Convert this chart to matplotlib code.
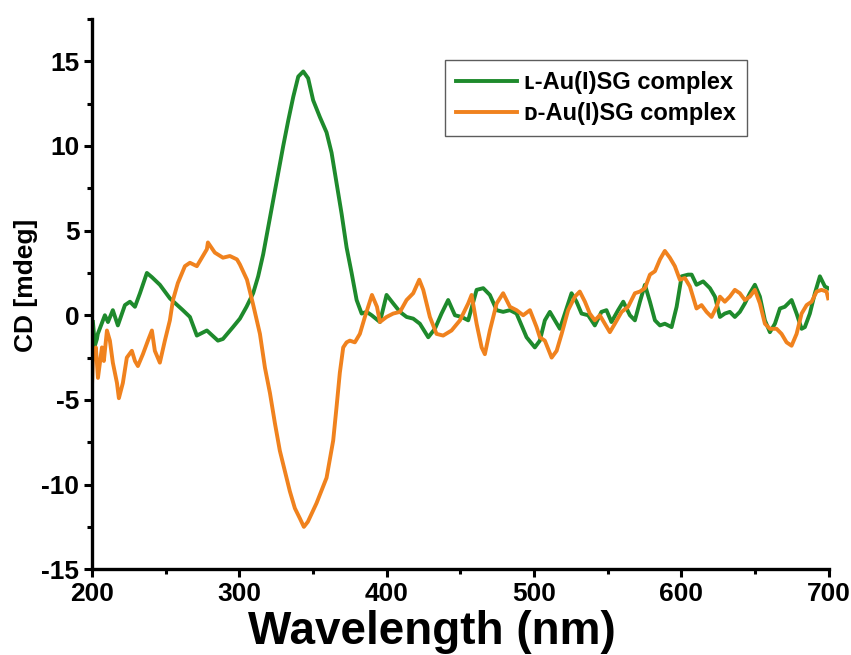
import matplotlib
matplotlib.use("Agg")
import matplotlib.pyplot as plt
from matplotlib.ticker import MultipleLocator

# L-Au(I)SG complex (green)
wl_L = [200.7, 202.0, 203.4, 204.0, 208.8, 210.9, 214.2, 217.6, 222.4, 225.8,
        229.2, 232.6, 237.3, 240.7, 246.1, 252.9, 261.7, 266.5, 271.2, 278.0,
        285.5, 288.9, 295.7, 300.4, 304.9, 309.4, 312.8, 316.2, 319.6, 323.0,
        326.4, 329.8, 333.2, 336.6, 340.0, 343.4, 346.7, 350.1, 354.7, 359.2,
        362.6, 366.0, 369.4, 372.8, 376.2, 379.6, 383.0, 386.4, 389.8, 395.4,
        399.9, 404.4, 409.0, 413.5, 418.0, 422.5, 428.2, 432.7, 437.2, 441.7,
        446.3, 450.8, 455.3, 461.0, 465.5, 470.0, 474.6, 479.0, 483.6, 488.1,
        494.9, 500.5, 503.9, 507.3, 510.7, 514.1, 517.5, 520.9, 525.4, 528.8,
        532.2, 536.7, 541.2, 545.7, 549.1, 552.5, 557.0, 560.5, 565.0, 568.4,
        571.8, 575.2, 578.6, 582.0, 585.4, 588.7, 593.3, 596.7, 600.1, 604.5,
        606.9, 610.2, 614.7, 619.3, 622.7, 626.1, 629.4, 632.8, 636.2, 639.6,
        643.0, 646.4, 649.8, 653.2, 656.6, 660.0, 663.4, 666.8, 670.1, 674.7,
        678.1, 681.5, 683.7, 687.1, 690.5, 693.9, 697.3, 699.5]
cd_L = [-0.4, -1.8, -1.4, -1.1, 0.0, -0.4, 0.3, -0.6, 0.6, 0.8,
        0.5, 1.3, 2.5, 2.25, 1.8, 1.0, 0.3, -0.1, -1.2, -0.9,
        -1.5, -1.4, -0.7, -0.2, 0.5, 1.3, 2.3, 3.6, 5.2, 6.8,
        8.4, 10.0, 11.5, 12.9, 14.1, 14.4, 14.0, 12.7, 11.7, 10.8,
        9.6, 7.8, 6.0, 4.0, 2.5, 0.9, 0.1, 0.2, 0.0, -0.4,
        1.2, 0.7, 0.2, -0.1, -0.2, -0.5, -1.3, -0.8, 0.1, 0.9,
        0.0, -0.1, -0.3, 1.5, 1.6, 1.2, 0.3, 0.2, 0.3, 0.1,
        -1.3, -1.9, -1.5, -0.3, 0.2, -0.3, -0.8, 0.1, 1.3, 0.8,
        0.1, 0.0, -0.6, 0.2, 0.3, -0.4, 0.3, 0.8, 0.0, -0.3,
        0.8, 1.8, 0.8, -0.3, -0.6, -0.5, -0.7, 0.5, 2.3, 2.4,
        2.4, 1.8, 2.0, 1.6, 1.1, -0.1, 0.1, 0.2, -0.1, 0.2,
        0.7, 1.3, 1.8, 1.1, -0.3, -1.0, -0.5, 0.4, 0.5, 0.9,
        0.1, -0.8, -0.7, 0.1, 1.3, 2.3, 1.7, 1.6]

# D-Au(I)SG complex (orange)
wl_D = [200.0, 200.7, 202.7, 204.1, 206.8, 208.1, 210.2, 212.2, 214.2, 217.0,
        218.3, 221.0, 223.7, 227.1, 229.2, 231.2, 234.6, 238.0, 240.7, 242.7,
        246.1, 249.5, 252.9, 255.0, 258.3, 263.1, 266.5, 271.2, 274.6, 278.0,
        278.7, 283.4, 288.9, 293.6, 298.4, 300.4, 305.2, 309.2, 314.0, 317.4,
        320.8, 324.2, 327.5, 330.9, 334.3, 337.7, 341.1, 343.8, 346.5, 352.4,
        359.2, 363.7, 366.0, 368.2, 370.5, 372.8, 375.0, 378.4, 381.8, 385.2,
        390.0, 393.4, 395.4, 399.9, 404.4, 409.0, 413.5, 418.0, 422.1, 424.8,
        429.3, 433.8, 438.3, 444.0, 449.7, 455.3, 457.6, 461.0, 464.4, 466.6,
        470.0, 474.6, 479.0, 483.6, 488.1, 492.6, 497.2, 501.7, 503.9, 507.3,
        511.9, 515.3, 518.7, 523.1, 527.7, 531.0, 534.5, 537.8, 541.2, 544.6,
        548.0, 551.4, 554.8, 559.4, 563.8, 568.4, 571.8, 575.2, 578.6, 582.0,
        585.4, 588.7, 592.1, 595.5, 598.9, 602.3, 605.7, 610.2, 613.6, 617.0,
        620.4, 623.8, 626.1, 629.4, 632.8, 636.2, 639.6, 643.0, 646.4, 649.8,
        653.2, 656.6, 660.0, 664.5, 667.9, 671.3, 674.7, 678.1, 681.5, 684.9,
        688.3, 691.7, 695.0, 698.4, 699.5]
cd_D = [-4.3, -2.5, -1.9, -3.7, -1.9, -2.7, -0.9, -1.5, -2.8, -4.0,
        -4.9, -4.0, -2.5, -2.1, -2.7, -3.0, -2.3, -1.5, -0.9, -2.1,
        -2.8, -1.5, -0.3, 0.9, 1.9, 2.9, 3.1, 2.9, 3.4, 3.9,
        4.3, 3.7, 3.4, 3.5, 3.3, 3.0, 2.1, 0.7, -1.1, -3.1,
        -4.6, -6.4, -8.0, -9.2, -10.4, -11.4, -12.0, -12.5, -12.2, -11.1,
        -9.6, -7.4, -5.4, -3.4, -1.9, -1.6, -1.5, -1.6, -1.1, -0.1,
        1.2, 0.5, -0.4, -0.1, 0.1, 0.2, 0.9, 1.3, 2.1, 1.5,
        -0.1, -1.1, -1.2, -0.9, -0.3, 0.7, 1.2, -0.5, -1.9, -2.3,
        -0.9, 0.7, 1.3, 0.5, 0.3, 0.0, 0.3, -0.7, -1.3, -1.5,
        -2.5, -2.1, -1.1, 0.3, 1.1, 1.4, 0.8, 0.1, -0.3, 0.0,
        -0.5, -1.0, -0.5, 0.2, 0.5, 1.3, 1.4, 1.6, 2.4, 2.6,
        3.3, 3.8, 3.4, 2.9, 2.1, 2.2, 1.7, 0.4, 0.6, 0.2,
        -0.1, 0.5, 1.1, 0.8, 1.1, 1.5, 1.3, 0.9, 1.1, 1.5,
        0.7, -0.5, -0.8, -0.8, -1.1, -1.6, -1.8, -1.1, 0.1, 0.6,
        0.8, 1.4, 1.5, 1.4, 1.0]

label_L = "\u029f-Au(I)SG complex"
label_D = "\u1d05-Au(I)SG complex"

plt.rcParams['font.family'] = ['Liberation Sans', 'DejaVu Sans']
plt.rcParams['font.weight'] = 'bold'
plt.rcParams['axes.unicode_minus'] = False

fig = plt.figure(figsize=(8.51, 6.55), dpi=100)
ax = fig.add_axes([0.108, 0.131, 0.866, 0.840])

ax.plot(wl_L, cd_L, color='#1e8a2c', lw=2.8, label=label_L)
ax.plot(wl_D, cd_D, color='#f0821e', lw=2.8, label=label_D)

ax.set_xlim(200, 700)
ax.set_ylim(-15, 17.5)
ax.xaxis.set_major_locator(MultipleLocator(100))
ax.xaxis.set_minor_locator(MultipleLocator(50))
ax.yaxis.set_major_locator(MultipleLocator(5))
ax.yaxis.set_minor_locator(MultipleLocator(2.5))

for s in ['top', 'right']:
    ax.spines[s].set_visible(False)
for s in ['left', 'bottom']:
    ax.spines[s].set_linewidth(2.4)

ax.tick_params(which='major', length=6, width=2.2, labelsize=19, pad=3)
ax.tick_params(which='minor', length=3.5, width=2.2)
for lab in ax.get_xticklabels() + ax.get_yticklabels():
    lab.set_fontweight('bold')

ax.set_xlabel("Wavelength (nm)", fontsize=33, fontweight='bold')
ax.xaxis.set_label_coords(0.461, -0.075)
ax.set_ylabel("CD [mdeg]", fontsize=19, fontweight='bold')
ax.yaxis.set_label_coords(-0.073, 0.515)

leg = ax.legend(loc='upper left', bbox_to_anchor=(0.479, 0.925), borderaxespad=0,
                fancybox=False, edgecolor='#333333', fontsize=17,
                handlelength=2.6, handletextpad=0.3, labelspacing=0.35,
                borderpad=0.45)
leg.get_frame().set_linewidth(1.0)
for t in leg.get_texts():
    t.set_fontweight('bold')

fig.savefig("out.png", dpi=100)
